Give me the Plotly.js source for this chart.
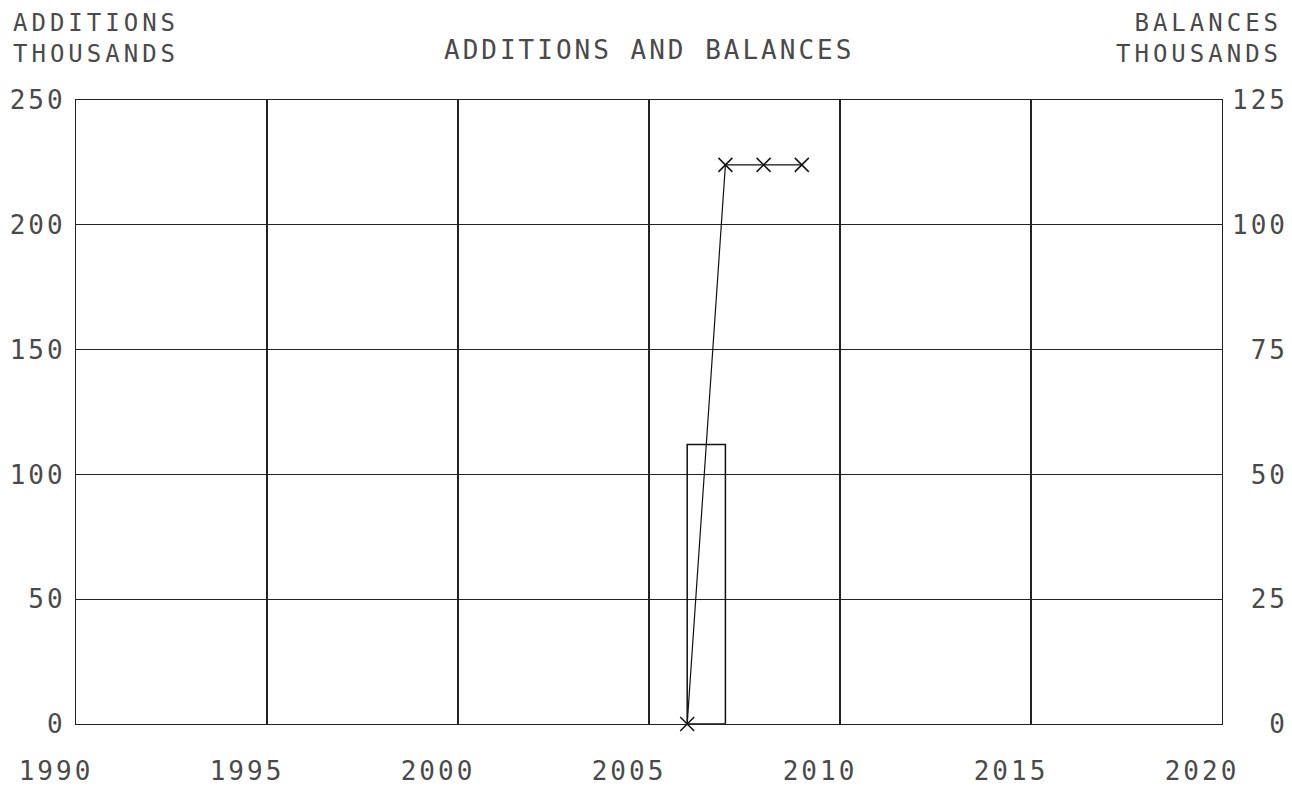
<!DOCTYPE html>
<html>
<head>
<meta charset="utf-8">
<script src="https://cdn.plot.ly/plotly-3.0.1.min.js"></script>
<style>html,body{margin:0;padding:0;background:#fff;}#chart{width:1292px;height:792px;}</style>
</head>
<body>
<div id="chart"></div>
<script>
// Data
const barYears = [2006];
const additions = [112];
const lineYears = [2006, 2007, 2008, 2009];
const balances = [0, 112, 112, 112];
const xTicks = [1990, 1995, 2000, 2005, 2010, 2015, 2020];
const leftTicks = [0, 50, 100, 150, 200, 250];
const rightTicks = [0, 25, 50, 75, 100, 125];

const FONT = "DejaVu Sans Mono";
const TXT = "#4a4a4a";
const LS = 3;      // letter spacing (ticks, title)
const LS_HEAD = 4; // letter spacing (axis headers)

const traces = [
  {
    type: "bar", x: barYears, y: additions, width: 1, offset: 0,
    marker: {color: "rgba(0,0,0,0)", line: {color: "#111", width: 1.5}},
    xaxis: "x", yaxis: "y", hoverinfo: "skip"
  },
  {
    type: "scatter", mode: "lines+markers", x: lineYears, y: balances,
    line: {color: "#111", width: 1.2},
    marker: {symbol: "x-thin-open", size: 14, color: "#111", line: {color: "#111", width: 1.5}},
    xaxis: "x", yaxis: "y2", cliponaxis: false
  }
];

const tf = {family: FONT, size: 26, color: TXT};
const hf = {family: FONT, size: 24, color: TXT};

const layout = {
  width: 1292, height: 792,
  margin: {l: 76, r: 70, t: 100, b: 68},
  paper_bgcolor: "#fff", plot_bgcolor: "#fff",
  showlegend: false,
  font: tf,
  xaxis: {
    range: [1990, 2020], tickvals: xTicks, ticktext: xTicks.map(String),
    showgrid: true, gridcolor: "#222", gridwidth: 1.2,
    showline: true, linecolor: "#222", linewidth: 1.2, mirror: true,
    zeroline: false, ticks: "", ticklabelshift: -20, ticklabelstandoff: 24,
    tickfont: tf
  },
  yaxis: {
    range: [0, 250], tickvals: leftTicks, ticktext: leftTicks.map(String),
    showgrid: true, gridcolor: "#222", gridwidth: 1.2,
    showline: true, linecolor: "#222", linewidth: 1.2, mirror: true,
    zeroline: false, ticks: "", ticklabelstandoff: 4,
    tickfont: tf
  },
  yaxis2: {
    range: [0, 125], tickvals: rightTicks, ticktext: rightTicks.map(String),
    overlaying: "y", side: "right", showgrid: false, zeroline: false,
    showline: false, ticks: "", ticklabelstandoff: 9,
    tickfont: tf
  },
  annotations: [
    {text: "ADDITIONS AND BALANCES", xref: "paper", yref: "paper", x: 0.5, y: 1, yshift: 50,
     xanchor: "center", yanchor: "middle", showarrow: false, font: tf},
    {text: "ADDITIONS<br>THOUSANDS", xref: "paper", yref: "paper", x: 0, xshift: -65, y: 1, yshift: 62,
     xanchor: "left", yanchor: "middle", align: "left", showarrow: false, font: hf},
    {text: "BALANCES<br>THOUSANDS", xref: "paper", yref: "paper", x: 1, xshift: 62, y: 1, yshift: 62,
     xanchor: "right", yanchor: "middle", align: "right", showarrow: false, font: hf}
  ]
};

function post() {
  const gd = document.getElementById("chart");
  // right axis labels: right-align them (monospace)
  const r = Array.from(gd.querySelectorAll("g.y2tick text"));
  const lens = r.map(t => t.textContent.length);
  const maxLen = Math.max.apply(null, lens);
  r.forEach((t, i) => {
    const per = t.getBBox().width / lens[i];
    t.setAttribute("dx", ((maxLen - lens[i]) * (per + LS)).toFixed(1));
  });
  gd.querySelectorAll("svg text").forEach(t => {
    const head = t.textContent.indexOf("THOUSANDS") >= 0;
    t.style.letterSpacing = (head ? LS_HEAD : LS) + "px";
  });
}

Plotly.newPlot("chart", traces, layout, {displayModeBar: false, staticPlot: true}).then(post);
</script>
</body>
</html>
